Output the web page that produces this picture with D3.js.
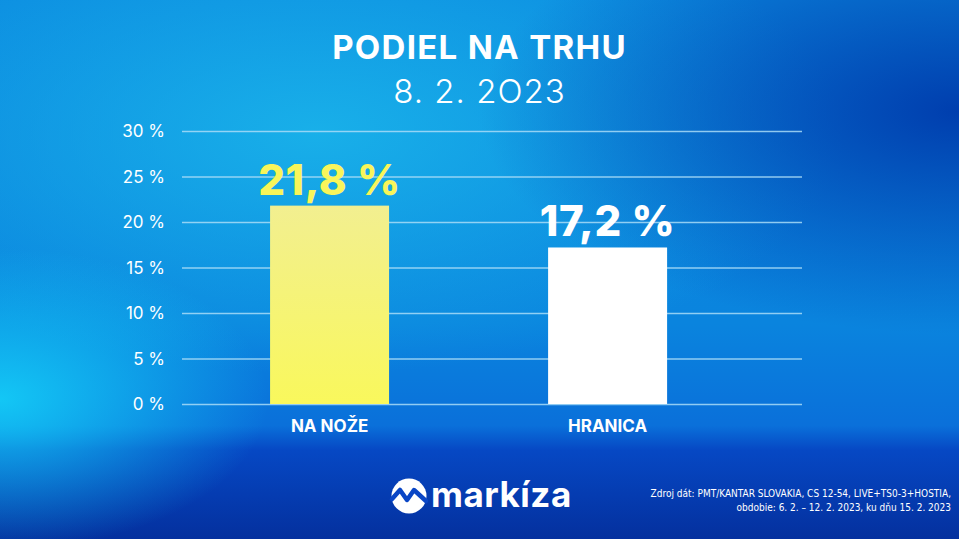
<!DOCTYPE html>
<html>
<head>
<meta charset="utf-8">
<script src="https://cdn.jsdelivr.net/npm/d3@7"></script>
<style>
  html, body { margin: 0; padding: 0; background: #0a6fd8; }
  svg { display: block; }
</style>
</head>
<body>
<div id="chart"></div>
<script>
// data
var shows = ["NA NOŽE", "HRANICA"];
var shares = [21.8, 17.2];
var shareLabels = ["21,8 %", "17,2 %"];
var barColors = ["yellow", "white"];
var yTicks = [0, 5, 10, 15, 20, 25, 30];
var title = "PODIEL NA TRHU";
var subtitle = "8. 2. 2O23";
var sourceLines = [
  "Zdroj dát: PMT/KANTAR SLOVAKIA, CS 12-54, LIVE+TS0-3+HOSTIA,",
  "obdobie: 6. 2. – 12. 2. 2023, ku dňu 15. 2. 2023"
];

var W = 959, H = 539;
var margin = { top: 131, right: 157, bottom: 135, left: 182 },
    width = W - margin.left - margin.right,
    height = H - margin.top - margin.bottom;

var FONT = "Inter, 'Noto Sans', sans-serif";

var svg = d3.select("#chart").append("svg")
    .attr("width", W)
    .attr("height", H);

// background gradients
var defs = svg.append("defs");

var base = defs.append("linearGradient").attr("id", "base")
    .attr("x1", 0).attr("y1", 0).attr("x2", 0).attr("y2", 1);
base.append("stop").attr("offset", "0%").attr("stop-color", "#0b8ae0");
base.append("stop").attr("offset", "60%").attr("stop-color", "#0a84de");
base.append("stop").attr("offset", "79%").attr("stop-color", "#0a70da");
base.append("stop").attr("offset", "83.5%").attr("stop-color", "#0648c4");
base.append("stop").attr("offset", "100%").attr("stop-color", "#04309e");

var glow = defs.append("radialGradient").attr("id", "glow")
    .attr("cx", 0.33).attr("cy", 0.3).attr("r", 0.55);
glow.append("stop").attr("offset", "0%").attr("stop-color", "#1ab4ea").attr("stop-opacity", 0.9);
glow.append("stop").attr("offset", "100%").attr("stop-color", "#1ab4ea").attr("stop-opacity", 0);

var right = defs.append("radialGradient").attr("id", "right")
    .attr("cx", 1.0).attr("cy", 0.25).attr("r", 0.5);
right.append("stop").attr("offset", "0%").attr("stop-color", "#003eae").attr("stop-opacity", 1);
right.append("stop").attr("offset", "100%").attr("stop-color", "#003eae").attr("stop-opacity", 0);

var cyan = defs.append("radialGradient").attr("id", "cyan")
    .attr("cx", 0.0).attr("cy", 0.74).attr("r", 0.28);
cyan.append("stop").attr("offset", "0%").attr("stop-color", "#14d0f8").attr("stop-opacity", 0.9);
cyan.append("stop").attr("offset", "100%").attr("stop-color", "#14d0f8").attr("stop-opacity", 0);

var barY = defs.append("linearGradient").attr("id", "yellow")
    .attr("x1", 0).attr("y1", 0).attr("x2", 0).attr("y2", 1);
barY.append("stop").attr("offset", "0%").attr("stop-color", "#f2ef90");
barY.append("stop").attr("offset", "100%").attr("stop-color", "#f9f85c");

var barW = defs.append("linearGradient").attr("id", "white");
barW.append("stop").attr("offset", "0%").attr("stop-color", "#ffffff");

svg.append("rect").attr("width", W).attr("height", H).attr("fill", "url(#base)");
svg.append("rect").attr("width", W).attr("height", 440).attr("fill", "url(#glow)");
svg.append("rect").attr("width", W).attr("height", 445).attr("fill", "url(#right)");
svg.append("rect").attr("width", W).attr("height", H).attr("fill", "url(#cyan)");

// titles
svg.append("text")
    .attr("x", W / 2).attr("y", 59)
    .attr("text-anchor", "middle")
    .attr("font-family", FONT)
    .attr("font-weight", 700)
    .attr("font-size", 33)
    .attr("letter-spacing", 1.3)
    .attr("fill", "white")
    .text(title);

svg.append("text")
    .attr("x", W / 2).attr("y", 103)
    .attr("text-anchor", "middle")
    .attr("font-family", FONT)
    .attr("font-weight", 300)
    .attr("font-size", 33)
    .attr("letter-spacing", 1)
    .attr("fill", "white")
    .text(subtitle);

var g = svg.append("g")
    .attr("transform", "translate(" + margin.left + "," + margin.top + ")");

var x = d3.scaleBand()
    .domain(shows)
    .range([0, width])
    .paddingInner(0.572)
    .paddingOuter(0.401)
    .align(0.395);

var y = d3.scaleLinear()
    .domain([0, 30])
    .range([height, 0]);

// grid lines
g.append("g")
    .call(d3.axisLeft(y).tickValues(yTicks).tickSize(-width).tickFormat(""))
    .call(function (a) { a.select(".domain").remove(); })
    .selectAll("line")
    .attr("stroke", "#a9dcf7")
    .attr("stroke-width", 1.6)
    .attr("stroke-opacity", 0.85);

// y labels
g.append("g")
    .call(d3.axisLeft(y).tickValues(yTicks).tickSize(0).tickPadding(17)
        .tickFormat(function (d) { return d + " %"; }))
    .call(function (a) { a.select(".domain").remove(); })
    .selectAll("text")
    .attr("fill", "white")
    .attr("font-family", FONT)
    .attr("font-size", 17)
    .attr("dy", "0.35em");

// bars
g.selectAll(".bar")
    .data(shows)
    .enter().append("rect")
    .attr("class", "bar")
    .attr("x", function (d) { return x(d); })
    .attr("width", x.bandwidth())
    .attr("y", function (d, i) { return y(shares[i]); })
    .attr("height", function (d, i) { return height - y(shares[i]); })
    .attr("fill", function (d, i) { return "url(#" + barColors[i] + ")"; });

// value labels
g.selectAll(".val")
    .data(shows)
    .enter().append("text")
    .attr("class", "val")
    .attr("x", function (d) { return x(d) + x.bandwidth() / 2; })
    .attr("y", function (d, i) { return y(shares[i]) - 11; })
    .attr("text-anchor", "middle")
    .attr("font-family", FONT)
    .attr("font-weight", 800)
    .attr("font-size", 42)
    .attr("letter-spacing", 0.6)
    .attr("fill", function (d, i) { return i === 0 ? "#f8f55a" : "white"; })
    .text(function (d, i) { return shareLabels[i]; });

// category labels
g.append("g")
    .attr("transform", "translate(0," + height + ")")
    .call(d3.axisBottom(x).tickSize(0).tickPadding(16))
    .call(function (a) { a.select(".domain").remove(); })
    .selectAll("text")
    .attr("fill", "white")
    .attr("font-family", FONT)
    .attr("font-weight", 700)
    .attr("font-size", 17);

// logo
var logo = svg.append("g").attr("transform", "translate(409,496)");
logo.append("circle").attr("r", 17.5).attr("fill", "white");
logo.append("path")
    .attr("d", "M-17,3 L-9,-6 L-2,4 L5,-6 L17,5")
    .attr("fill", "none")
    .attr("stroke", "#0a46c6")
    .attr("stroke-width", 4.5)
    .attr("stroke-linejoin", "round")
    .attr("stroke-linecap", "round");
svg.append("text")
    .attr("x", 431).attr("y", 507)
    .attr("font-family", FONT)
    .attr("font-weight", 700)
    .attr("font-size", 35)
    .attr("letter-spacing", 0.5)
    .attr("fill", "white")
    .text("markíza");

// source
svg.append("g").selectAll("text")
    .data(sourceLines)
    .enter().append("text")
    .attr("x", 951)
    .attr("y", function (d, i) { return 497 + i * 14; })
    .attr("text-anchor", "end")
    .attr("font-family", "'Liberation Sans Narrow', 'DejaVu Sans Condensed', sans-serif")
    .attr("font-size", 10)
    .attr("fill", "white")
    .text(function (d) { return d; });
</script>
</body>
</html>
